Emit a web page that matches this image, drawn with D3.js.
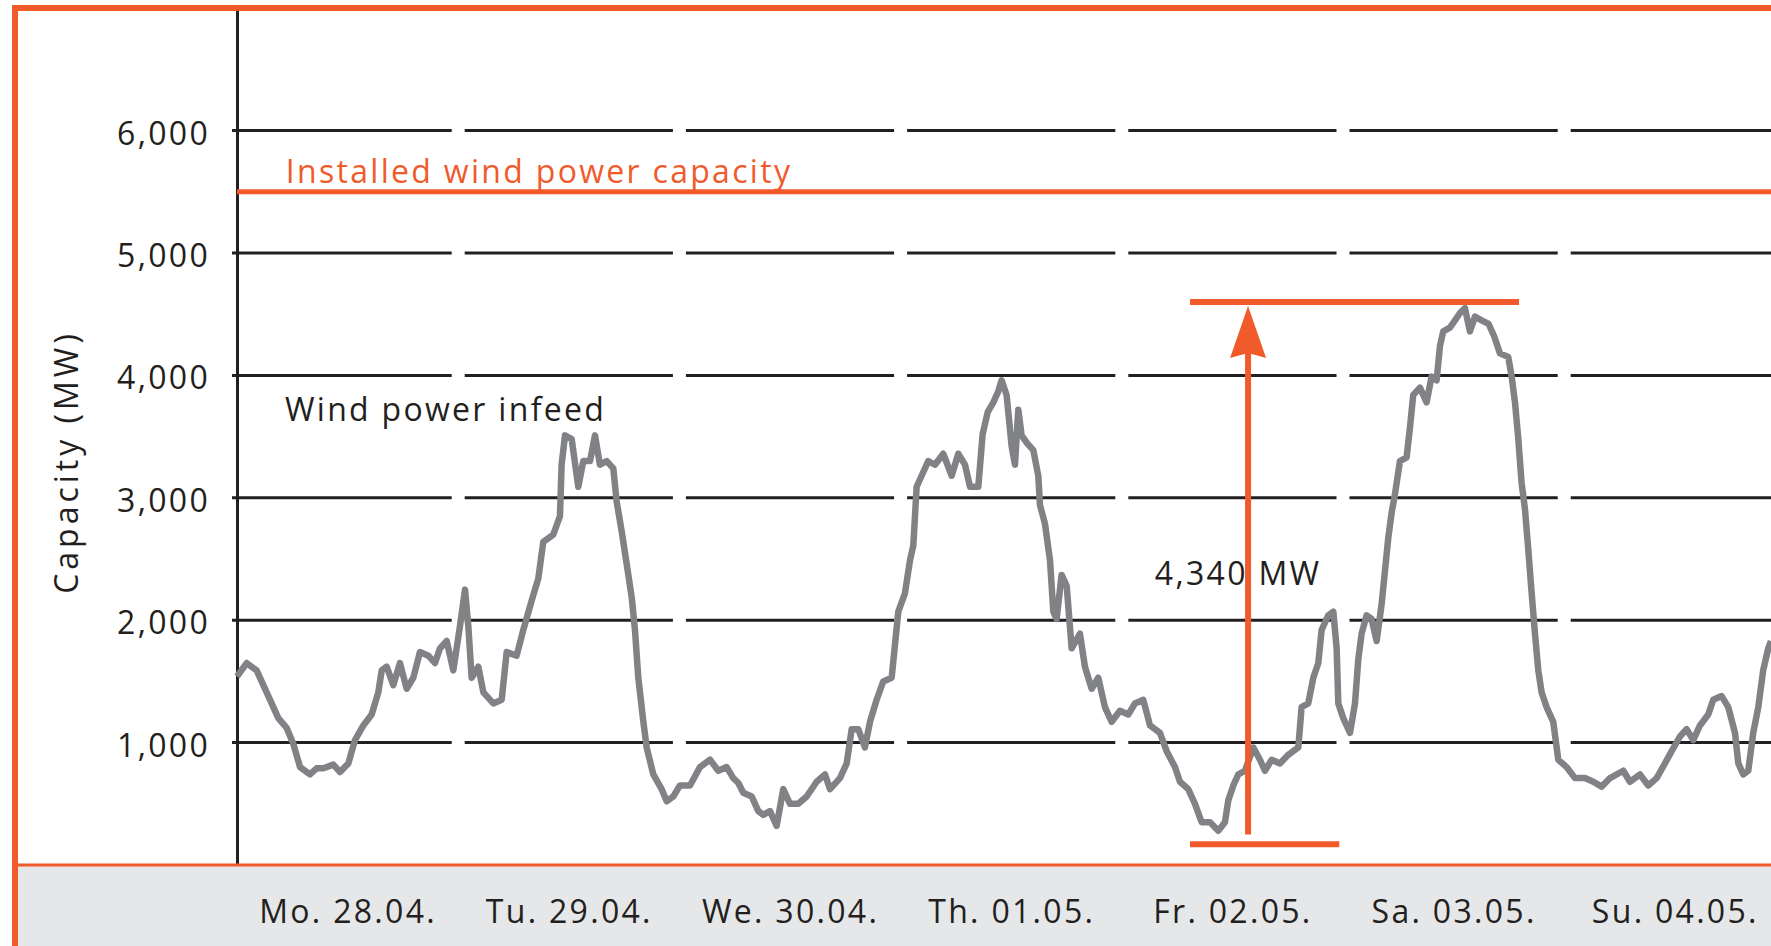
<!DOCTYPE html>
<html>
  <head>
    <meta charset="utf-8">
    <title>Wind power infeed</title>
    <script src="https://cdn.jsdelivr.net/npm/d3@7"></script>
    <style>
      html, body { margin: 0; padding: 0; background: #fff; overflow: hidden; }
      svg { display: block; font-family: 'Open Sans', sans-serif; }
      .lbl { font-size: 32px; letter-spacing: 2.3px; fill: #231f20; }
    </style>
  </head>
  <body>
    <svg></svg>
    <script>
      // ---- data ----
      const dayLabels = ['Mo. 28.04.', 'Tu. 29.04.', 'We. 30.04.', 'Th. 01.05.', 'Fr. 02.05.', 'Sa. 03.05.', 'Su. 04.05.'];
      const yTicks = [1000, 2000, 3000, 4000, 5000, 6000];

      // hours since Mo. 28.04. 00:00
      const hours = [0,1.05,2.13,2.86,3.76,4.48,5.39,6.11,6.84,7.92,
        8.64,9.37,10.45,11.18,12.08,12.8,13.71,14.61,15.33,15.7,
        16.24,16.96,17.68,18.41,19.13,19.85,20.76,21.48,22.02,22.75,
        23.47,24.19,24.74,25.1,25.46,26.18,26.73,27.81,28.72,29.26,
        30.34,31.06,31.97,32.69,33.23,34.32,35.04,35.22,35.59,36.31,
        37.03,37.57,38.3,38.84,39.38,40.11,40.83,41.19,41.73,42.28,
        42.82,43.18,43.54,44.09,44.45,45.17,46.07,46.62,47.34,48.06,
        49.15,50.23,51.32,52.22,53.13,53.85,54.4,54.93,55.84,56.56,
        57.1,57.83,58.55,59.27,60,60.9,61.81,62.89,63.8,64.34,
        65.42,66.15,66.69,67.41,68.13,68.68,69.4,70.12,71.03,71.39,
        71.75,72.47,73.02,73.38,73.74,74.28,75,75.73,76.63,77.54,
        78.26,78.99,79.53,80.43,80.9,81.45,82.06,82.6,82.96,83.5,
        84.05,84.41,84.77,85.13,85.68,86.4,86.94,87.12,87.66,88.21,
        88.57,88.93,89.47,90.02,90.56,91.46,92,92.73,93.45,94.17,
        94.9,95.8,96.7,97.43,98.33,99.06,100.14,100.87,101.77,102.31,
        103.21,103.94,104.66,105.57,106.47,107.19,107.56,108.1,108.64,109.36,
        110.27,110.99,111.53,112.26,113.16,114.06,115.15,115.51,116.23,116.78,
        117.32,117.68,118.4,118.95,119.31,119.49,120.03,120.76,121.3,121.66,
        122.02,122.56,123.1,123.65,124.19,124.55,124.91,125.28,125.64,126.18,
        126.9,127.26,127.62,128.35,129.07,129.61,130.16,130.52,130.88,131.6,
        132.15,132.69,133.23,133.77,134.32,135.04,135.8,136.4,137.03,137.93,
        138.3,138.66,139.02,139.38,139.74,140.1,140.47,140.83,141.19,141.55,
        142.09,142.81,143.36,144.26,145.17,146.25,147.16,148.06,148.97,150.41,
        151.13,152.22,153.12,154.03,154.93,155.66,156.56,157.28,158,158.73,
        159.63,160.17,161.08,161.8,162.53,162.89,163.43,163.97,164.51,165.06,
        165.59,166.14,166.43];

      const infeedMW = [1540,1650,1590,1470,1320,1200,1120,990,800,740,
        790,790,820,760,830,1020,1140,1230,1410,1590,
        1620,1470,1650,1440,1530,1740,1710,1650,1770,1830,
        1590,1950,2250,1950,1530,1620,1410,1320,1350,1740,
        1710,1920,2160,2340,2640,2700,2850,3270,3510,3480,
        3090,3300,3300,3510,3270,3300,3240,2970,2730,2460,
        2190,1920,1530,1170,960,740,620,520,560,650,
        650,800,860,770,800,710,670,590,560,440,
        410,440,320,620,500,500,560,680,740,620,
        710,830,1110,1110,960,1170,1350,1500,1530,1800,
        2070,2220,2490,2610,3090,3180,3300,3270,3360,3180,
        3360,3270,3090,3090,3520,3700,3780,3870,3960,3840,
        3420,3270,3720,3510,3450,3390,3180,2940,2790,2490,
        2070,2010,2370,2280,1770,1890,1620,1440,1530,1290,
        1170,1260,1230,1320,1350,1140,1080,930,800,680,
        620,500,350,350,280,350,530,650,740,770,
        960,860,770,860,830,900,960,1290,1320,1530,
        1650,1920,2040,2070,1770,1320,1200,1080,1320,1680,
        1890,2040,2010,1830,2130,2400,2670,2880,3030,3300,
        3330,3570,3840,3900,3780,3990,3960,4240,4360,4390,
        4450,4510,4550,4360,4480,4450,4420,4320,4180,4150,
        3990,3780,3480,3120,2910,2580,2220,1890,1590,1410,
        1290,1170,860,800,710,710,680,640,710,770,
        680,740,650,710,830,930,1050,1110,1020,1140,
        1230,1350,1380,1290,1080,830,740,770,1080,1290,
        1590,1770,1830];

      const installedMW = 5500;
      const spanLowMW = 170;
      const spanHighMW = 4600;
      const spanLabel = '4,340 MW';
      const arrowHour = 109.7;
      const topBarHours = [103.4, 139.1];
      const lowBarHours = [103.4, 119.6];

      // ---- layout ----
      const width = 1771, height = 946;
      const orange = '#f15a2b', ink = '#231f20', lineGrey = '#808285';

      const svg = d3.select('svg')
        .attr('width', width)
        .attr('height', height);

      const plotLeft = 237;
      const plotBottom = 865;
      const dayWidth = 221.2;
      const mwPx = 0.1224; // px per MW

      const x = d3.scaleLinear()
        .domain([0, 168])
        .range([plotLeft, plotLeft + 7 * dayWidth]);

      const y = d3.scaleLinear()
        .domain([0, 7000])
        .range([plotBottom, plotBottom - 7000 * mwPx]);

      // grey band under the plot
      svg.append('rect')
        .attr('x', 18).attr('y', plotBottom)
        .attr('width', width - 18).attr('height', height - plotBottom)
        .attr('fill', '#e6e7e8');

      // gridlines, broken at every day boundary
      const gap = 6.5;
      const segs = [];
      yTicks.forEach(t => {
        dayLabels.forEach((d, i) => {
          segs.push({
            v: t,
            x1: i === 0 ? x(0) - 5 : x(i * 24) + gap,
            x2: x((i + 1) * 24) - gap
          });
        });
      });
      svg.append('g').selectAll('line').data(segs)
        .enter().append('line')
          .attr('x1', d => d.x1)
          .attr('x2', d => d.x2)
          .attr('y1', d => y(d.v))
          .attr('y2', d => y(d.v))
          .attr('stroke', ink)
          .attr('stroke-width', 3);

      // y axis
      const yAxis = d3.axisLeft(y)
        .tickValues(yTicks)
        .tickSize(0)
        .tickSizeOuter(0)
        .tickPadding(27)
        .tickFormat(d3.format(','));

      const yAxisG = svg.append('g')
        .attr('transform', `translate(${plotLeft},0)`)
        .call(yAxis);

      yAxisG.select('.domain')
        .attr('stroke', ink)
        .attr('stroke-width', 3);

      yAxisG.attr('font-size', null).attr('font-family', null);
      yAxisG.selectAll('text')
        .attr('class', 'lbl')
        .attr('dy', '0.42em')
        .attr('fill', null);

      svg.append('text')
        .attr('class', 'lbl')
        .attr('transform', `translate(78,462) rotate(-90)`)
        .attr('text-anchor', 'middle')
        .style('letter-spacing', '4px')
        .text('Capacity (MW)');

      // x axis: day labels in the band
      const xAxis = d3.axisBottom(x)
        .tickValues(dayLabels.map((d, i) => i * 24 + 12))
        .tickFormat((d, i) => dayLabels[i])
        .tickSize(0)
        .tickPadding(0);

      const xAxisG = svg.append('g')
        .attr('transform', `translate(0,${plotBottom})`)
        .call(xAxis);
      xAxisG.select('.domain').remove();
      xAxisG.attr('font-size', null).attr('font-family', null);
      xAxisG.selectAll('text')
        .attr('class', 'lbl')
        .attr('fill', null)
        .attr('y', 58)
        .attr('dy', null);

      // wind infeed line
      const series = d3.zip(hours, infeedMW);
      svg.append('path')
        .datum(series)
        .attr('fill', 'none')
        .attr('stroke', lineGrey)
        .attr('stroke-width', 6.5)
        .attr('stroke-linejoin', 'round')
        .attr('d', d3.line().x(d => x(d[0])).y(d => y(d[1])));

      svg.append('text')
        .attr('class', 'lbl')
        .attr('x', x(5.2))
        .attr('y', y(3630))
        .text('Wind power infeed');

      // installed capacity
      svg.append('line')
        .attr('x1', x(0)).attr('x2', width)
        .attr('y1', y(installedMW)).attr('y2', y(installedMW))
        .attr('stroke', orange)
        .attr('stroke-width', 5);

      svg.append('text')
        .attr('class', 'lbl')
        .attr('x', x(5.3))
        .attr('y', y(installedMW) - 9)
        .style('fill', orange)
        .text('Installed wind power capacity');

      // span annotation
      const ann = svg.append('g');
      ann.append('text')
        .attr('class', 'lbl')
        .attr('x', x(arrowHour) - 10)
        .attr('y', y(2290))
        .attr('text-anchor', 'middle')
        .text(spanLabel);

      [[topBarHours, spanHighMW], [lowBarHours, spanLowMW]].forEach(([hs, v]) => {
        ann.append('line')
          .attr('x1', x(hs[0])).attr('x2', x(hs[1]))
          .attr('y1', y(v)).attr('y2', y(v))
          .attr('stroke', orange)
          .attr('stroke-width', 6);
      });

      const ax = x(arrowHour);
      const tipY = y(spanHighMW) + 4;
      ann.append('line')
        .attr('x1', ax).attr('x2', ax)
        .attr('y1', y(250)).attr('y2', tipY + 40)
        .attr('stroke', orange)
        .attr('stroke-width', 6);

      ann.append('path')
        .attr('d', `M${ax},${tipY} L${ax + 18},${tipY + 52} L${ax},${tipY + 47} L${ax - 18},${tipY + 52} Z`)
        .attr('fill', orange);

      // frame
      svg.append('rect')
        .attr('x', 12).attr('y', 5)
        .attr('width', width - 12).attr('height', 6)
        .attr('fill', orange);
      svg.append('rect')
        .attr('x', 12).attr('y', 5)
        .attr('width', 6).attr('height', height - 5)
        .attr('fill', orange);
      svg.append('line')
        .attr('x1', 18).attr('x2', width)
        .attr('y1', plotBottom).attr('y2', plotBottom)
        .attr('stroke', orange)
        .attr('stroke-width', 3);
    </script>
  </body>
</html>
